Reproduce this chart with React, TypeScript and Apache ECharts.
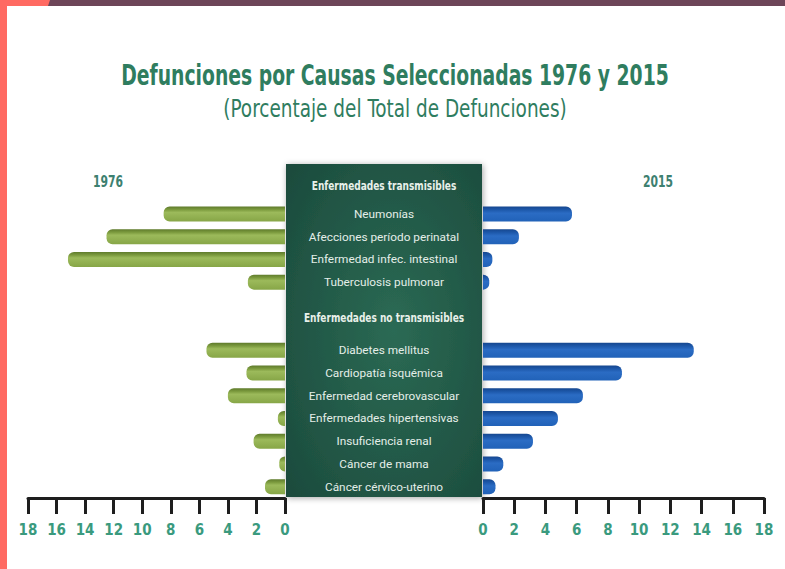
import React, { useEffect, useRef } from "react";
import * as echarts from "echarts";

const categories = [
  "Neumonías",
  "Afecciones período perinatal",
  "Enfermedad infec. intestinal",
  "Tuberculosis pulmonar",
  " ",
  "  ",
  "Diabetes mellitus",
  "Cardiopatía isquémica",
  "Enfermedad cerebrovascular",
  "Enfermedades hipertensivas",
  "Insuficiencia renal",
  "Cáncer de mama",
  "Cáncer cérvico-uterino",
];
const values1976 = [8.5, 12.5, 15.2, 2.6, null, null, 5.5, 2.7, 4.0, 0.5, 2.2, 0.4, 1.4];
const values2015 = [5.7, 2.3, 0.6, 0.4, null, null, 13.5, 8.9, 6.4, 4.8, 3.2, 1.3, 0.8];
const groupHeaders = ["Enfermedades transmisibles", "Enfermedades no transmisibles"];
const seriesNames = ["1976", "2015"];
const title = "Defunciones por Causas Seleccionadas 1976 y 2015";
const subtitle = "(Porcentaje del Total de Defunciones)";

const COND = "'DejaVu Sans Condensed', 'DejaVu Sans', sans-serif";
const TEAL = "#2f7d5f";

export default function App() {
  const ref = useRef<HTMLDivElement>(null);
  useEffect(() => {
    if (!ref.current) return;
    const chart = echarts.init(ref.current, undefined, { renderer: "svg" });
    const gridTop = 202.6;
    const gridHeight = 295.4;
    const valueAxisCommon = {
      type: "value" as const,
      min: 0,
      max: 18,
      interval: 2,
      position: "bottom" as const,
      splitLine: { show: false },
      axisLine: { show: true, lineStyle: { color: "#1e1e1e", width: 3 } },
      axisTick: { show: true, length: 16, lineStyle: { color: "#1e1e1e", width: 3 } },
      axisLabel: {
        color: "#3a9a7e",
        fontFamily: COND,
        fontWeight: "bold" as const,
        fontSize: 15,
        margin: 24,
      },
    };
    const greenGrad = new echarts.graphic.LinearGradient(0, 0, 0, 1, [
      { offset: 0, color: "#5e7a2b" },
      { offset: 0.22, color: "#7d9c3f" },
      { offset: 0.4, color: "#9cba5b" },
      { offset: 1, color: "#87a647" },
    ]);
    const blueGrad = new echarts.graphic.LinearGradient(0, 0, 0, 1, [
      { offset: 0, color: "#16478f" },
      { offset: 0.22, color: "#1d58aa" },
      { offset: 0.45, color: "#2b6cc4" },
      { offset: 1, color: "#2162b8" },
    ]);
    const centerText = (text: string, y: number) => ({
      type: "text",
      x: 384,
      y,
      scaleX: 0.77,
      style: { text, fill: "#e8f0ea", font: `bold 13px ${COND}`, textAlign: "center", textVerticalAlign: "middle" },
    });
    chart.setOption({
      animation: false,
      backgroundColor: "#ffffff",
      grid: [
        { left: 28, top: gridTop, width: 257, height: gridHeight },
        { left: 483, top: gridTop, width: 281, height: gridHeight },
      ],
      xAxis: [
        { ...valueAxisCommon, gridIndex: 0, inverse: true },
        { ...valueAxisCommon, gridIndex: 1 },
      ],
      yAxis: [
        {
          type: "category",
          gridIndex: 0,
          data: categories,
          inverse: true,
          position: "right",
          axisLine: { show: false },
          axisTick: { show: false },
          axisLabel: { show: false },
        },
        {
          type: "category",
          gridIndex: 1,
          data: categories,
          inverse: true,
          position: "left",
          axisLine: { show: false },
          axisTick: { show: false },
          axisLabel: {
            show: true,
            align: "center",
            margin: 99,
            color: "#e4eee8",
            fontFamily: "Roboto, sans-serif",
            fontSize: 11.8,
          },
        },
      ],
      series: [
        {
          name: seriesNames[0],
          type: "bar",
          xAxisIndex: 0,
          yAxisIndex: 0,
          data: values1976,
          barWidth: 15,
          itemStyle: { color: greenGrad, borderRadius: [6, 0, 0, 6] },
        },
        {
          name: seriesNames[1],
          type: "bar",
          xAxisIndex: 1,
          yAxisIndex: 1,
          data: values2015,
          barWidth: 15,
          itemStyle: { color: blueGrad, borderRadius: [0, 6, 6, 0] },
        },
      ],
      graphic: [
        { type: "rect", z: -5, shape: { x: 0, y: 0, width: 7, height: 569 }, style: { fill: "#ff6a62" } },
        { type: "polygon", z: -5, shape: { points: [[0, 0], [51, 0], [49, 6], [0, 6]] }, style: { fill: "#ff6a62" } },
        { type: "polygon", z: -5, shape: { points: [[50, 0], [785, 0], [785, 6], [48, 6]] }, style: { fill: "#6d4558" } },
        {
          type: "rect",
          z: -1,
          shape: { x: 286, y: 164, width: 196, height: 333 },
          style: {
            fill: new echarts.graphic.RadialGradient(0.55, 0.5, 0.75, [
              { offset: 0, color: "#2b6a54" },
              { offset: 1, color: "#1b4a3c" },
            ]),
            shadowBlur: 6,
            shadowColor: "rgba(0,0,0,0.35)",
            shadowOffsetX: 1,
            shadowOffsetY: 1,
          },
        },
        {
          type: "text",
          x: 395,
          y: 75,
          scaleX: 0.72,
          style: {
            text: title,
            fill: TEAL,
            font: `bold 29px ${COND}`,
            textAlign: "center",
            textVerticalAlign: "middle",
          },
        },
        {
          type: "text",
          x: 395,
          y: 108,
          scaleX: 0.855,
          style: {
            text: subtitle,
            fill: TEAL,
            font: `24px ${COND}`,
            textAlign: "center",
            textVerticalAlign: "middle",
          },
        },
        {
          type: "text",
          x: 108,
          y: 181,
          scaleX: 0.75,
          style: { text: seriesNames[0], fill: "#3d8070", font: `bold 16px ${COND}`, textAlign: "center", textVerticalAlign: "middle" },
        },
        {
          type: "text",
          x: 658,
          y: 181,
          scaleX: 0.75,
          style: { text: seriesNames[1], fill: "#3d8070", font: `bold 16px ${COND}`, textAlign: "center", textVerticalAlign: "middle" },
        },
        centerText(groupHeaders[0], 186),
        centerText(groupHeaders[1], 318),
      ],
    });
    return () => chart.dispose();
  }, []);
  return <div ref={ref} style={{ position: "fixed", left: 0, top: 0, width: 785, height: 569 }} />;
}
